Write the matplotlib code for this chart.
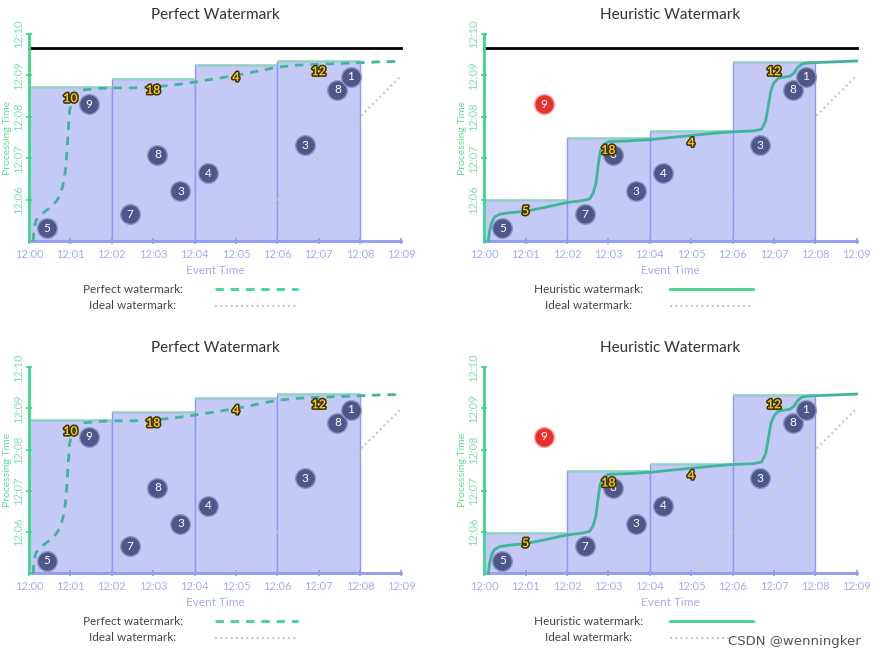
import matplotlib.pyplot as plt
import matplotlib.patheffects as pe

plt.rcParams['font.family'] = ['Lato', 'DejaVu Sans']

# minutes after 12:00
minute_ticks = [0, 1, 2, 3, 4, 5, 6, 7, 8, 9]
minute_labels = ["12:%02d" % m for m in minute_ticks]
proc_ticks = [6, 7, 8, 9, 10]
proc_labels = ["12:06", "12:07", "12:08", "12:09", "12:10"]

# input events: (event time, processing time, value)
event_x = [0.44, 1.44, 2.43, 3.10, 3.66, 4.33, 6.66, 7.45, 7.77]
event_y = [5.31, 8.31, 5.65, 7.08, 6.20, 6.64, 7.31, 8.65, 8.97]
event_val = [5, 9, 7, 8, 3, 4, 3, 8, 1]

window_start = [0, 2, 4, 6]
window_width = 2

# perfect watermark
perfect_window_top = [8.72, 8.92, 9.25, 9.36]
perfect_sums = [10, 18, 4, 12]
perfect_sum_y = [8.45, 8.65, 8.96, 9.10]
perfect_wm_x = [0.10, 0.12, 0.17, 0.30, 0.50, 0.65, 0.75, 0.82, 0.88, 0.92, 0.95,
                0.98, 1.05, 1.15, 1.30, 1.60, 2.0, 2.5, 3.0, 3.5, 4.0, 4.5, 5.0,
                5.5, 6.0, 6.5, 7.0, 7.5, 8.0, 8.5, 9.0]
perfect_wm_y = [5.0, 5.3, 5.5, 5.65, 5.8, 5.95, 6.1, 6.35, 6.7, 7.2, 7.7,
                8.15, 8.45, 8.58, 8.65, 8.68, 8.70, 8.70, 8.72, 8.77, 8.84, 8.92, 9.00,
                9.10, 9.20, 9.25, 9.27, 9.29, 9.31, 9.33, 9.34]

# heuristic watermark
heur_window_top = [5.98, 7.48, 7.65, 9.33]
heur_sums = [5, 18, 4, 12]
heur_sum_y = [5.73, 7.20, 7.38, 9.10]
heur_wm_x = [0.10, 0.13, 0.18, 0.25, 0.38, 0.60, 1.0, 1.5, 2.0, 2.4, 2.55, 2.63,
             2.70, 2.75, 2.80, 2.88, 3.0, 3.5, 4.0, 4.5, 5.0, 5.5, 6.0, 6.5, 6.7,
             6.8, 6.87, 6.93, 7.0, 7.1, 7.25, 7.38, 7.48, 7.58, 7.68, 7.8, 8.0,
             8.5, 9.0]
heur_wm_y = [5.0, 5.25, 5.45, 5.58, 5.65, 5.68, 5.72, 5.82, 5.93, 5.98, 6.02, 6.15,
             6.4, 6.8, 7.15, 7.33, 7.40, 7.42, 7.45, 7.50, 7.55, 7.60, 7.64, 7.66, 7.70,
             7.90, 8.3, 8.65, 8.82, 8.93, 8.96, 8.98, 9.05, 9.2, 9.28, 9.30, 9.31,
             9.33, 9.35]
late_index = 1  # the "9" that is dropped by the heuristic watermark

ideal_x = [5, 9]
ideal_y = [5, 9]
current_time = 9.67

GREEN = "#3dd68c"
BLUE = "#8f9cf2"
TEAL = "#3fb59c"


def draw_panel(ax, heuristic, show_now):
    if heuristic:
        tops, sums, sum_y = heur_window_top, heur_sums, heur_sum_y
        wm_x, wm_y = heur_wm_x, heur_wm_y
        title, leg = "Heuristic Watermark", "Heuristic watermark:"
    else:
        tops, sums, sum_y = perfect_window_top, perfect_sums, perfect_sum_y
        wm_x, wm_y = perfect_wm_x, perfect_wm_y
        title, leg = "Perfect Watermark", "Perfect watermark:"

    heights = [t - 5 for t in tops]
    ax.bar(window_start, heights, width=window_width, bottom=5, align='edge',
           color="#c4c9f6", edgecolor="#8d99ee", linewidth=1, zorder=1)
    ax.hlines(tops, window_start, [s + window_width for s in window_start],
              color="#8fe0b4", linewidth=1.2, zorder=2)

    ax.plot(ideal_x, ideal_y, color="#c8c8c8", linestyle=(0, (1, 1.5)),
            linewidth=1.5, zorder=2)

    if show_now:
        ax.plot([0, 9], [current_time, current_time], color="black",
                linewidth=2, zorder=3, clip_on=False)

    if heuristic:
        ax.plot(wm_x, wm_y, color=TEAL, linewidth=2, zorder=3, clip_on=False)
    else:
        ax.plot(wm_x, wm_y, color=TEAL, linewidth=2, linestyle=(0, (3, 2.5)),
                zorder=3, clip_on=False)

    for i, (x, y, v) in enumerate(zip(event_x, event_y, event_val)):
        if heuristic and i == late_index:
            fc, ec = "#e8302c", "#f7a5a0"
        else:
            fc, ec = "#4f5788", "#8e95c8"
        ax.scatter([x], [y], s=200, color=fc, edgecolor=ec, linewidth=1,
                   zorder=4)
        ax.text(x, y, str(v), color="white", fontsize=8.5, ha='center',
                va='center', zorder=5)

    for x, y, v in zip([1, 3, 5, 7], sum_y, sums):
        ax.text(x, y, str(v), color="#f5c518", fontsize=9, fontweight='bold',
                ha='center', va='center', zorder=6,
                path_effects=[pe.withStroke(linewidth=2.2, foreground="#3a3000")])

    ax.set_xlim(0, 9)
    ax.set_ylim(5, 10)
    ax.set_xticks(minute_ticks)
    ax.set_xticklabels(minute_labels, color="#a3acf5", fontsize=8)
    ax.set_yticks(proc_ticks)
    ax.set_yticklabels(proc_labels, color="#7fe0a8", fontsize=8,
                       rotation=90, va='center')
    ax.tick_params(axis='x', direction='inout', length=5, width=1.2,
                   color=BLUE, pad=3)
    ax.tick_params(axis='y', direction='inout', length=5, width=1.2,
                   color=GREEN, pad=1)
    for s in ['top', 'right']:
        ax.spines[s].set_visible(False)
    ax.spines['left'].set_color(GREEN)
    ax.spines['left'].set_linewidth(2)
    ax.spines['bottom'].set_color(BLUE)
    ax.spines['bottom'].set_linewidth(2)
    ax.spines['left'].set_zorder(5)

    ax.set_title(title, fontsize=11, color="#333333", y=1.0, pad=11)
    ax.set_xlabel("Event Time", color="#a3acf5", fontsize=8.5)
    ax.xaxis.set_label_coords(0.5, -0.115)
    ax.set_ylabel("Processing Time", color="#5fdc98", fontsize=7.5)
    ax.yaxis.set_label_coords(-0.045, 0.5)

    # legend under the plot
    ax.text(0.279, -0.232, leg, transform=ax.transAxes, ha='center',
            va='center', fontsize=8.5, color="#444444")
    ax.text(0.279, -0.312, "Ideal watermark:", transform=ax.transAxes,
            ha='center', va='center', fontsize=8.5, color="#444444")
    if heuristic:
        ax.plot([0.498, 0.721], [-0.232, -0.232], transform=ax.transAxes,
                color=GREEN, linewidth=2, clip_on=False)
    else:
        ax.plot([0.498, 0.721], [-0.232, -0.232], transform=ax.transAxes,
                color=GREEN, linewidth=2, linestyle=(0, (3, 2.5)), clip_on=False)
    ax.plot([0.498, 0.721], [-0.312, -0.312], transform=ax.transAxes,
            color="#c8c8c8", linewidth=1.5, linestyle=(0, (1, 1.5)),
            clip_on=False)


fig = plt.figure(figsize=(8.82, 6.6), dpi=100)
ax1 = fig.add_axes([0.0329, 0.6348, 0.4223, 0.3136])
ax2 = fig.add_axes([0.549, 0.6348, 0.4223, 0.3136])
ax3 = fig.add_axes([0.0329, 0.1314, 0.4223, 0.3121])
ax4 = fig.add_axes([0.549, 0.1314, 0.4223, 0.3121])

draw_panel(ax1, False, True)
draw_panel(ax2, True, True)
draw_panel(ax3, False, False)
draw_panel(ax4, True, False)

fig.text(0.901, 0.028, "CSDN @wenningker", fontsize=9.5, color="#555555",
         ha='center', va='center', family=['DejaVu Sans'])

fig.savefig("out.png", dpi=100)
